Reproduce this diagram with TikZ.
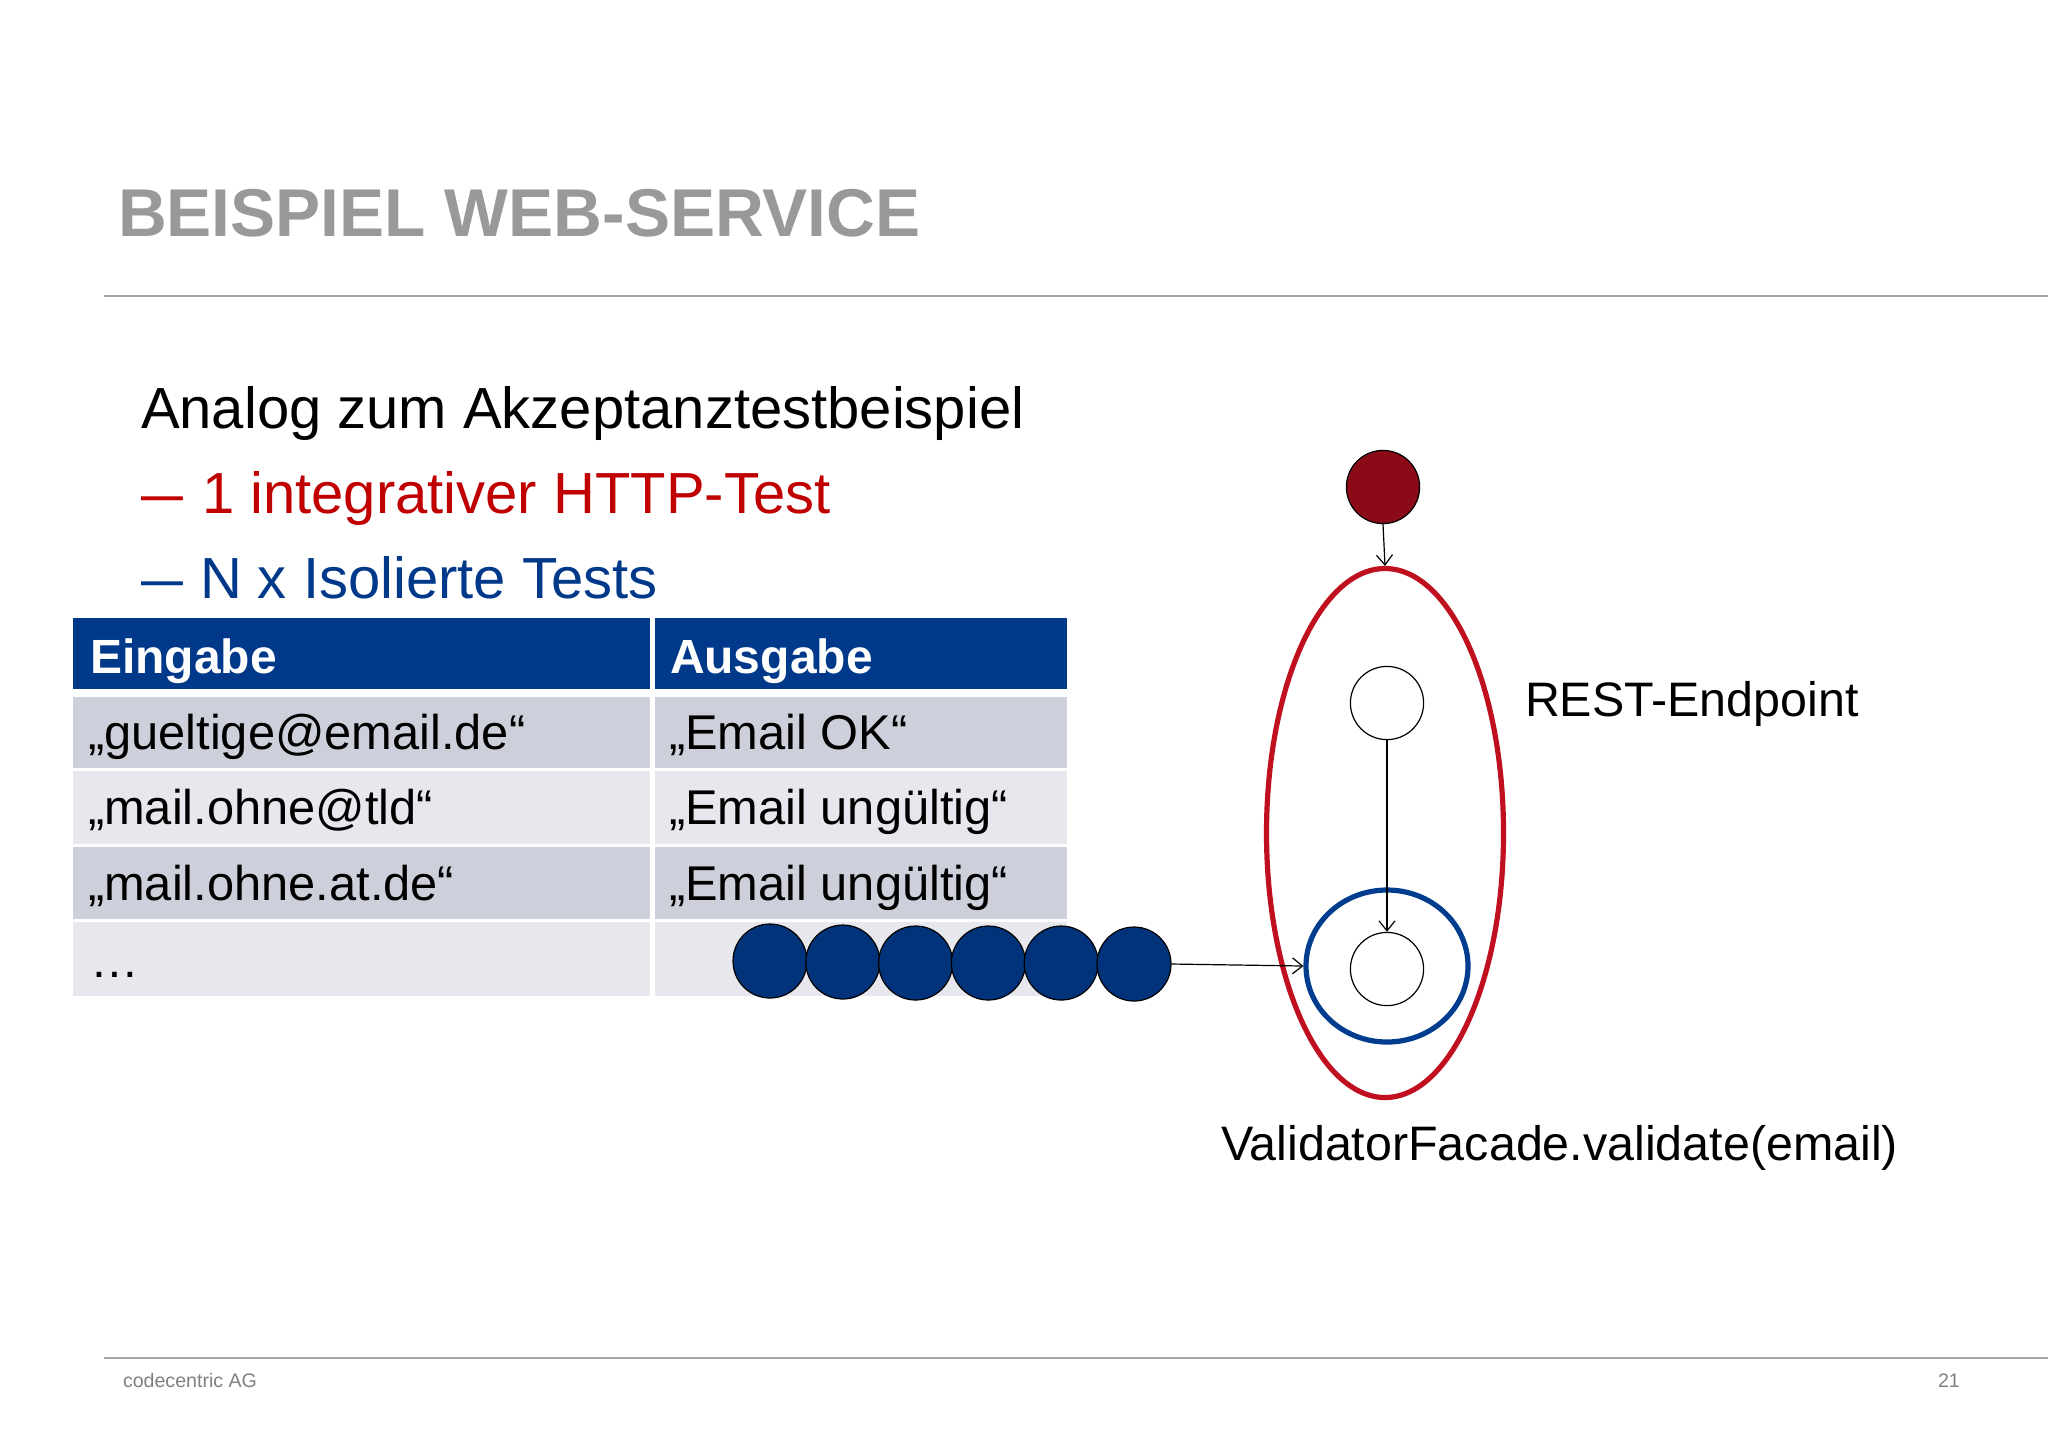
\documentclass[tikz,border=0pt]{standalone}
\usepackage{fontspec}
\setmainfont{Liberation Sans}
\usetikzlibrary{shapes.geometric,arrows.meta}
\definecolor{titlegray}{RGB}{153,153,153}
\definecolor{rulegray}{RGB}{165,165,165}
\definecolor{footgray}{RGB}{128,128,128}
\definecolor{ccred}{RGB}{192,0,0}
\definecolor{ccblue}{RGB}{0,56,138}
\definecolor{hdrblue}{RGB}{0,57,138}
\definecolor{rowdark}{RGB}{205,208,218}
\definecolor{rowlight}{RGB}{231,232,238}
\definecolor{dotred}{RGB}{138,10,23}
\definecolor{ellred}{RGB}{192,16,31}
\definecolor{ellblue}{RGB}{0,61,143}
\definecolor{ballblue}{RGB}{0,51,122}
\begin{document}
\begin{tikzpicture}[x=0.5pt,y=-0.5pt,
  txt/.style={anchor=base west,inner sep=0pt,outer sep=0pt},
  bodytxt/.style={txt,font=\fontsize{29pt}{34pt}\selectfont},
  celltxt/.style={txt,font=\fontsize{24.4pt}{29pt}\selectfont},
  hdrtxt/.style={txt,font=\fontsize{24pt}{29pt}\selectfont\bfseries,text=white},
  labtxt/.style={txt,font=\fontsize{24.2pt}{29pt}\selectfont},
  foot/.style={txt,font=\fontsize{9.8pt}{12pt}\selectfont,text=footgray},
  rulestyle/.style={draw=rulegray,line width=1.1pt},
  ball/.style={circle,draw=black,line width=0.6pt,fill=ballblue,minimum size=37pt,inner sep=0pt},
  wcirc/.style={circle,draw=black,line width=0.6pt,fill=white,minimum size=36.6pt,inner sep=0pt},
  conn/.style={-{Straight Barb[length=5pt,width=8pt]},line width=0.6pt},
  ]
\useasboundingbox (0,0) rectangle (2048,1448);
\fill[white] (0,0) rectangle (2048,1448);

% title and rules
\node[txt,font=\fontsize{33.8pt}{40pt}\selectfont\bfseries,text=titlegray] (title) at (118,236) {BEISPIEL WEB-SERVICE};
\coordinate (r1a) at (104,296); \coordinate (r1b) at (2048,296);
\draw[rulestyle] (r1a) -- (r1b);
\coordinate (r2a) at (104,1358); \coordinate (r2b) at (2048,1358);
\draw[rulestyle] (r2a) -- (r2b);

% bullet text
\node[bodytxt] (l1) at (141,428) {Analog zum Akzeptanztestbeispiel};
\node[bodytxt,text=ccred] (l2) at (141,513) {\makebox[30.5pt][l]{\scalebox{1.3}[1]{–}}1 integrativer HTTP-Test};
\node[bodytxt,text=ccblue] (l3) at (141,598) {\makebox[29.5pt][l]{\scalebox{1.3}[1]{–}}N x Isolierte Tests};

% table
\fill[hdrblue] (73,618) rectangle (650,689);
\fill[hdrblue] (655,618) rectangle (1067,689);
\fill[rowdark] (73,697) rectangle (650,768);
\fill[rowdark] (655,697) rectangle (1067,768);
\fill[rowlight] (73,771) rectangle (650,844);
\fill[rowlight] (655,771) rectangle (1067,844);
\fill[rowdark] (73,847) rectangle (650,919);
\fill[rowdark] (655,847) rectangle (1067,919);
\fill[rowlight] (73,922) rectangle (650,996);
\fill[rowlight] (655,922) rectangle (1067,996);

\node[hdrtxt] (h1) at (90,673) {Eingabe};
\node[hdrtxt] (h2) at (670,673) {Ausgabe};
\node[celltxt] (a1) at (88,749) {„gueltige@email.de“};
\node[celltxt] (b1) at (669,749) {„Email OK“};
\node[celltxt] (a2) at (88,824) {„mail.ohne@tld“};
\node[celltxt] (b2) at (669,824) {„Email ungültig“};
\node[celltxt] (a3) at (88,900) {„mail.ohne.at.de“};
\node[celltxt] (b3) at (669,900) {„Email ungültig“};
\node[celltxt] (a4) at (90,977) {…};

% blue balls
\node[ball] (p1) at (770,961) {};
\node[ball] (p2) at (842.8,962) {};
\node[ball] (p3) at (915.6,963) {};
\node[ball] (p4) at (988.4,963) {};
\node[ball] (p5) at (1061.2,963) {};
\node[ball] (p6) at (1134,964) {};

% state diagram
\node[circle,draw=black,line width=0.6pt,fill=dotred,minimum size=36.6pt,inner sep=0pt] (start) at (1383,487) {};
\node[ellipse,draw=ellred,line width=2.6pt,minimum width=118.5pt,minimum height=264.5pt,inner sep=0pt] (rest) at (1385,833) {};
\node[ellipse,draw=ellblue,line width=2.6pt,minimum width=81pt,minimum height=76pt,inner sep=0pt] (val) at (1387,966) {};
\node[wcirc] (w1) at (1387,703) {};
\node[wcirc] (w2) at (1387,969) {};

\draw[conn] (start.south) -- (rest.north);
\draw[conn] (w1.south) -- (w2.north);
\draw[conn] (p6.east) -- (val.west);

\node[labtxt] (restlab) at (1525,716) {REST-Endpoint};
\node[labtxt] (vallab) at (1221,1160) {ValidatorFacade.validate(email)};

% footer
\node[foot] (company) at (123,1387) {codecentric AG};
\node[foot] (page) at (1938,1387) {21};
\end{tikzpicture}
\end{document}
